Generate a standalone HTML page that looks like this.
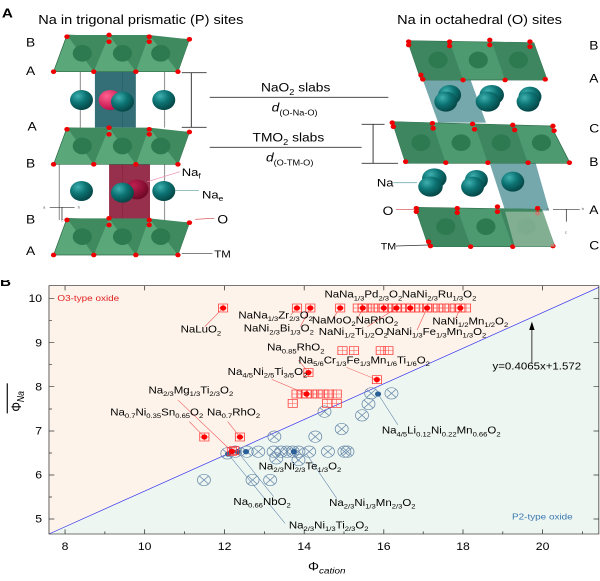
<!DOCTYPE html>
<html><head><meta charset="utf-8"><style>
html,body{margin:0;padding:0;background:#fff;width:600px;height:581px;overflow:hidden}
svg{position:absolute;left:0;display:block}
text{font-family:"Liberation Sans",sans-serif}
</style></head><body>
<svg style="top:0" width="600" height="280" viewBox="0 0 1568 840" preserveAspectRatio="none">
<defs>
<radialGradient id="tg" cx="0.35" cy="0.3" r="0.7"><stop offset="0" stop-color="#3fb0b0"/><stop offset="0.5" stop-color="#0d7474"/><stop offset="1" stop-color="#064848"/></radialGradient>
<radialGradient id="pg" cx="0.35" cy="0.3" r="0.7"><stop offset="0" stop-color="#ff6090"/><stop offset="1" stop-color="#c0104a"/></radialGradient>
<radialGradient id="mg" cx="0.35" cy="0.3" r="0.7"><stop offset="0" stop-color="#c02050"/><stop offset="1" stop-color="#700828"/></radialGradient>
</defs>
<text x="5" y="52" font-size="40" font-weight="bold">A</text>
<text x="100" y="72" font-size="38">Na in trigonal prismatic (P) sites</text>
<text x="1038" y="72" font-size="38">Na in octahedral (O) sites</text>
<!-- left structure -->
<g stroke="#999" stroke-width="3">
<line x1="210" y1="215" x2="210" y2="383"/><line x1="320" y1="215" x2="320" y2="383"/><line x1="430" y1="215" x2="430" y2="383"/>
<line x1="155" y1="490" x2="155" y2="660"/><line x1="320" y1="490" x2="320" y2="660"/><line x1="430" y1="490" x2="430" y2="660"/>
</g>
<rect x="248" y="215" width="107" height="168" fill="#1e5f68" opacity="0.9"/>
<rect x="285" y="490" width="107" height="170" fill="#8b1a3a" opacity="0.9"/>
<g id="slabL">
<polygon points="175,105 495,118 465,215 140,215" fill="#5aa87a" stroke="#2e6a48" stroke-width="2"/>
<polygon points="175,105 285,105 245,215" fill="#3f8a5e"/>
<polygon points="285,105 390,105 355,215" fill="#3f8a5e"/>
<polygon points="390,105 495,118 465,215" fill="#3f8a5e"/>
<circle cx="215" cy="160" r="25" fill="#2e7a50"/><circle cx="320" cy="160" r="25" fill="#2e7a50"/><circle cx="420" cy="160" r="25" fill="#2e7a50"/>
<g fill="#e00">
<circle cx="175" cy="110" r="7"/><circle cx="285" cy="105" r="7"/><circle cx="285" cy="125" r="7"/><circle cx="390" cy="110" r="7"/><circle cx="390" cy="125" r="7"/><circle cx="495" cy="118" r="7"/>
<circle cx="140" cy="215" r="7"/><circle cx="245" cy="215" r="7"/><circle cx="355" cy="215" r="7"/><circle cx="465" cy="215" r="7"/>
</g></g>
<use href="#slabL" transform="translate(0,278)"/>
<use href="#slabL" transform="translate(0,550)"/>
<circle cx="213" cy="300" r="30" fill="url(#tg)"/><circle cx="288" cy="300" r="30" fill="url(#pg)"/><circle cx="320" cy="305" r="30" fill="url(#tg)"/><circle cx="428" cy="300" r="30" fill="url(#tg)"/>
<circle cx="213" cy="573" r="30" fill="url(#tg)"/><circle cx="358" cy="568" r="30" fill="url(#mg)"/><circle cx="320" cy="578" r="30" fill="url(#tg)"/><circle cx="428" cy="573" r="30" fill="url(#tg)"/>
<g font-size="36"><text x="68" y="140">B</text><text x="68" y="225">A</text><text x="72" y="392">A</text><text x="68" y="502">B</text><text x="68" y="670">B</text><text x="68" y="765">A</text></g>
<g font-size="12" fill="#666"><text x="112" y="625">a</text><text x="203" y="625">b</text><text x="160" y="665">c</text></g>
<g stroke="#333" stroke-width="2"><line x1="130" y1="622" x2="195" y2="622"/><line x1="162" y1="622" x2="162" y2="660"/></g>
<line x1="385" y1="545" x2="470" y2="515" stroke="#f08ab0" stroke-width="2"/>
<line x1="458" y1="572" x2="520" y2="572" stroke="#5a9a9a" stroke-width="2"/>
<line x1="510" y1="658" x2="560" y2="655" stroke="#d04040" stroke-width="2"/>
<line x1="475" y1="760" x2="555" y2="760" stroke="#333" stroke-width="2"/>
<text x="475" y="528" font-size="34">Na<tspan font-size="22" dy="8">f</tspan></text>
<text x="528" y="595" font-size="34">Na<tspan font-size="22" dy="8">e</tspan></text>
<text x="568" y="670" font-size="36">O</text>
<text x="560" y="772" font-size="30">TM</text>
<!-- middle -->
<g stroke="#333" stroke-width="2.5" fill="none">
<line x1="475" y1="218" x2="540" y2="218"/><line x1="475" y1="382" x2="540" y2="382"/><line x1="500" y1="218" x2="500" y2="382"/>
<line x1="548" y1="292" x2="1015" y2="292"/><line x1="548" y1="442" x2="945" y2="442"/>
<line x1="945" y1="373" x2="1005" y2="373"/><line x1="945" y1="490" x2="1040" y2="490"/><line x1="975" y1="373" x2="975" y2="490"/>
</g>
<text x="682" y="275" font-size="36">NaO<tspan font-size="24" dy="10">2</tspan><tspan dy="-10"> slabs</tspan></text>
<text x="710" y="335" font-size="36" font-style="italic">d<tspan font-size="24" dy="12" font-style="normal">(O-Na-O)</tspan></text>
<text x="660" y="425" font-size="36">TMO<tspan font-size="24" dy="10">2</tspan><tspan dy="-10"> slabs</tspan></text>
<text x="695" y="485" font-size="36" font-style="italic">d<tspan font-size="24" dy="12" font-style="normal">(O-TM-O)</tspan></text>
<!-- right structure -->
<polygon points="1105,240 1230,240 1270,368 1145,368" fill="#2a7a80" opacity="0.65"/>
<polygon points="1280,490 1400,490 1435,632 1320,632" fill="#2a7a80" opacity="0.65"/>
<g id="slabR">
<polygon points="1065,122 1395,128 1430,240 1100,240" fill="#4e9a70" stroke="#2e6a48" stroke-width="2"/>
<polygon points="1065,122 1175,125 1210,240 1100,240" fill="#3e8660"/>
<polygon points="1285,125 1395,128 1430,240 1320,240" fill="#3e8660"/>
<circle cx="1145" cy="180" r="25" fill="#2e7a50"/><circle cx="1250" cy="180" r="25" fill="#2e7a50"/><circle cx="1355" cy="180" r="25" fill="#2e7a50"/>
<g fill="#e00"><circle cx="1068" cy="125" r="7"/><circle cx="1068" cy="135" r="7"/><circle cx="1175" cy="125" r="7"/><circle cx="1175" cy="138" r="7"/><circle cx="1280" cy="120" r="7"/><circle cx="1280" cy="135" r="7"/><circle cx="1385" cy="125" r="7"/><circle cx="1385" cy="140" r="7"/>
<circle cx="1100" cy="225" r="7"/><circle cx="1105" cy="238" r="7"/><circle cx="1210" cy="240" r="7"/><circle cx="1320" cy="240" r="7"/><circle cx="1425" cy="238" r="7"/></g>
</g>
<polygon points="1025,365 1440,378 1490,490 1060,490" fill="#4e9a70" stroke="#2e6a48" stroke-width="2"/>
<polygon points="1025,365 1130,368 1165,490 1060,490" fill="#3e8660"/><polygon points="1240,372 1345,375 1380,490 1275,490" fill="#3e8660"/>
<g fill="#2e7a50"><circle cx="1100" cy="428" r="25"/><circle cx="1205" cy="428" r="25"/><circle cx="1310" cy="428" r="25"/><circle cx="1415" cy="428" r="25"/></g>
<g fill="#e00"><circle cx="1025" cy="368" r="7"/><circle cx="1028" cy="380" r="7"/><circle cx="1130" cy="370" r="7"/><circle cx="1132" cy="385" r="7"/><circle cx="1235" cy="372" r="7"/><circle cx="1240" cy="388" r="7"/><circle cx="1340" cy="375" r="7"/><circle cx="1345" cy="390" r="7"/><circle cx="1445" cy="378" r="7"/><circle cx="1448" cy="392" r="7"/>
<circle cx="1060" cy="485" r="7"/><circle cx="1165" cy="488" r="7"/><circle cx="1275" cy="488" r="7"/><circle cx="1380" cy="488" r="7"/><circle cx="1488" cy="488" r="7"/></g>
<use href="#slabR" transform="translate(20,500)"/>
<polygon points="1320,635 1420,635 1450,740 1345,740" fill="#a0c0a8" opacity="0.7"/>
<g fill="url(#tg)">
<ellipse cx="1175" cy="285" rx="30" ry="30"/><ellipse cx="1165" cy="305" rx="30" ry="30"/>
<ellipse cx="1285" cy="285" rx="32" ry="30"/><ellipse cx="1275" cy="305" rx="32" ry="30"/>
<ellipse cx="1385" cy="290" rx="30" ry="30"/><ellipse cx="1380" cy="305" rx="30" ry="30"/>
<ellipse cx="1135" cy="535" rx="32" ry="30"/><ellipse cx="1125" cy="560" rx="32" ry="30"/>
<ellipse cx="1245" cy="540" rx="30" ry="30"/><ellipse cx="1235" cy="560" rx="30" ry="30"/>
<circle cx="1340" cy="545" r="30"/></g>
<g font-size="36"><text x="1540" y="148">B</text><text x="1540" y="248">A</text><text x="1540" y="398">C</text><text x="1540" y="498">B</text><text x="1540" y="642">A</text><text x="1540" y="748">C</text></g>
<text x="985" y="560" font-size="34">Na</text><line x1="1028" y1="548" x2="1090" y2="548" stroke="#8ab8b8" stroke-width="3"/>
<text x="1000" y="645" font-size="36">O</text><line x1="1035" y1="628" x2="1085" y2="628" stroke="#d04040" stroke-width="2"/>
<text x="995" y="748" font-size="28">TM</text><line x1="1035" y1="738" x2="1120" y2="735" stroke="#333" stroke-width="2"/>
<g stroke="#333" stroke-width="2"><line x1="1445" y1="628" x2="1515" y2="628"/><line x1="1480" y1="628" x2="1480" y2="665"/></g>
<g font-size="12" fill="#666"><text x="1428" y="630">a</text><text x="1520" y="630">b</text><text x="1476" y="700">c</text></g>
</svg>

<svg style="top:280px" width="600" height="301" viewBox="0 0 1568 903" preserveAspectRatio="none">
<defs>
<g id="sq"><rect x="-12" y="-12" width="24" height="24" fill="none" stroke="#f33" stroke-width="2"/><path d="M-12 0H12M0 -12V12" stroke="#f55" stroke-width="1.5"/></g>
<g id="rd"><use href="#sq"/><circle r="8" fill="#f00"/></g>
<g id="cx"><circle r="17" fill="none" stroke="#6688aa" stroke-width="2"/><path d="M-12 -12L12 12M12 -12L-12 12" stroke="#6688aa" stroke-width="2"/></g>
</defs>
<text x="0" y="18" font-size="40" font-weight="bold">B</text>
<polygon points="128,17 1565,17 1565,22 128,762" fill="#fdf3ea"/>
<polygon points="1565,22 1565,762 128,762" fill="#eef6f1"/>
<line x1="128" y1="762" x2="1565" y2="22" stroke="#3030f0" stroke-width="2"/>
<rect x="128" y="17" width="1437" height="745" fill="none" stroke="#333" stroke-width="2"/>
<g stroke="#333" stroke-width="2">
<path d="M170 762v-14M378 762v-14M587 762v-14M795 762v-14M1003 762v-14M1210 762v-14M1418 762v-14M274 762v-8M482 762v-8M691 762v-8M899 762v-8M1106 762v-8M1314 762v-8M1522 762v-8"/>
<path d="M170 17v14M378 17v14M587 17v14M795 17v14M1003 17v14M1210 17v14M1418 17v14"/>
<path d="M128 55h14M128 188h14M128 320h14M128 453h14M128 585h14M128 717h14M128 121h8M128 254h8M128 387h8M128 519h8M128 651h8"/>
<path d="M1565 55h-14M1565 188h-14M1565 320h-14M1565 453h-14M1565 585h-14M1565 717h-14"/>
</g>
<g font-size="32" text-anchor="middle"><text x="170" y="810">8</text><text x="378" y="810">10</text><text x="587" y="810">12</text><text x="795" y="810">14</text><text x="1003" y="810">16</text><text x="1210" y="810">18</text><text x="1418" y="810">20</text></g>
<g font-size="32" text-anchor="end"><text x="110" y="66">10</text><text x="110" y="199">9</text><text x="110" y="331">8</text><text x="110" y="464">7</text><text x="110" y="596">6</text><text x="110" y="728">5</text></g>
<text x="805" y="872" font-size="36">Φ<tspan font-size="26" dy="8" font-style="italic">cation</tspan></text>
<g transform="translate(55,395) rotate(-90)"><text x="0" y="0" font-size="36">Φ<tspan font-size="26" dy="8" font-style="italic">Na</tspan></text><line x1="-5" y1="-36" x2="85" y2="-36" stroke="#000" stroke-width="3"/></g>
<text x="150" y="63" font-size="26" fill="#e02020">O3-type oxide</text>
<text x="1338" y="718" font-size="26" fill="#3a78b0">P2-type oxide</text>
<!-- leader lines -->
<g stroke="#f04848" stroke-width="1.5" fill="none">
<path d="M583 84L535 140"/><path d="M776 84L760 105"/><path d="M811 84L785 140"/><path d="M889 84L870 115"/><path d="M948 84L935 115"/><path d="M1036 84L960 140"/><path d="M1116 84L1090 150"/><path d="M1203 84L1190 118"/>
<path d="M806 278L780 240"/><path d="M985 299L905 262"/><path d="M801 342L710 298"/><path d="M534 471L495 425"/><path d="M627 471L595 425"/><path d="M606 514L465 360"/>
</g>
<g stroke="#5a80a8" stroke-width="1.5" fill="none">
<path d="M988 342L1040 435"/><path d="M596 522L745 730"/><path d="M621 515L715 650"/><path d="M768 515L780 545"/><path d="M800 520L880 655"/>
</g>
<!-- blue markers -->
<g>
<use href="#cx" x="533" y="600"/><use href="#cx" x="660" y="600"/><use href="#cx" x="706" y="600"/><use href="#cx" x="717" y="470"/><use href="#cx" x="824" y="470"/><use href="#cx" x="893" y="447"/><use href="#cx" x="848" y="395"/><use href="#cx" x="946" y="406"/><use href="#cx" x="963" y="372"/><use href="#cx" x="970" y="340"/><use href="#cx" x="1023" y="340"/>
<use href="#cx" x="594" y="520"/><use href="#cx" x="615" y="515"/><use href="#cx" x="645" y="515"/><use href="#cx" x="675" y="515"/><use href="#cx" x="715" y="515"/><use href="#cx" x="735" y="515"/><use href="#cx" x="750" y="515"/><use href="#cx" x="765" y="515"/><use href="#cx" x="780" y="515"/><use href="#cx" x="808" y="515"/><use href="#cx" x="857" y="515"/><use href="#cx" x="900" y="515"/><use href="#cx" x="908" y="515"/><use href="#cx" x="722" y="535"/><use href="#cx" x="780" y="540"/>
</g>
<g fill="#2a5f98"><circle cx="596" cy="522" r="8"/><circle cx="621" cy="515" r="8"/><circle cx="643" cy="515" r="8"/><circle cx="768" cy="515" r="8"/><circle cx="988" cy="342" r="8"/></g>
<!-- red markers -->
<g>
<use href="#sq" x="935" y="84"/><use href="#sq" x="958" y="84"/><use href="#sq" x="975" y="84"/><use href="#sq" x="990" y="84"/><use href="#sq" x="1015" y="84"/><use href="#sq" x="1025" y="84"/><use href="#sq" x="1050" y="84"/><use href="#sq" x="1060" y="84"/><use href="#sq" x="1085" y="84"/><use href="#sq" x="1095" y="84"/><use href="#sq" x="1130" y="84"/><use href="#sq" x="1145" y="84"/><use href="#sq" x="1160" y="84"/><use href="#sq" x="1175" y="84"/><use href="#sq" x="1190" y="84"/><use href="#sq" x="1218" y="84"/>
<use href="#sq" x="895" y="212"/><use href="#sq" x="925" y="212"/><use href="#sq" x="995" y="212"/><use href="#sq" x="1015" y="212"/>
<use href="#sq" x="775" y="342"/><use href="#sq" x="790" y="342"/><use href="#sq" x="815" y="342"/><use href="#sq" x="830" y="342"/><use href="#sq" x="845" y="342"/><use href="#sq" x="860" y="342"/><use href="#sq" x="880" y="342"/>
<use href="#sq" x="765" y="370"/><use href="#sq" x="855" y="370"/><use href="#sq" x="880" y="370"/><use href="#sq" x="612" y="512"/>
<use href="#rd" x="583" y="84"/><use href="#rd" x="776" y="84"/><use href="#rd" x="811" y="84"/><use href="#rd" x="889" y="84"/><use href="#rd" x="948" y="84"/><use href="#rd" x="1003" y="84"/><use href="#rd" x="1036" y="84"/><use href="#rd" x="1072" y="84"/><use href="#rd" x="1116" y="84"/><use href="#rd" x="1203" y="84"/>
<use href="#rd" x="806" y="278"/><use href="#rd" x="985" y="299"/><use href="#rd" x="801" y="342"/><use href="#rd" x="534" y="471"/><use href="#rd" x="627" y="471"/><use href="#rd" x="606" y="514"/>
</g>
<!-- arrow -->
<line x1="1390" y1="250" x2="1390" y2="145" stroke="#000" stroke-width="2"/><polygon points="1383,150 1397,150 1390,125" fill="#000"/>
<!-- labels -->
<g font-size="30">
<text x="848" y="53">NaNa<tspan font-size="20" dy="8">1/3</tspan><tspan dy="-8">Pd</tspan><tspan font-size="20" dy="8">2/3</tspan><tspan dy="-8">O</tspan><tspan font-size="20" dy="8">2</tspan></text>
<text x="1050" y="53">NaNi<tspan font-size="20" dy="8">2/3</tspan><tspan dy="-8">Ru</tspan><tspan font-size="20" dy="8">1/3</tspan><tspan dy="-8">O</tspan><tspan font-size="20" dy="8">2</tspan></text>
<text x="623" y="115">NaNa<tspan font-size="20" dy="8">1/3</tspan><tspan dy="-8">Zr</tspan><tspan font-size="20" dy="8">2/3</tspan><tspan dy="-8">O</tspan><tspan font-size="20" dy="8">2</tspan></text>
<text x="637" y="155">NaNi<tspan font-size="20" dy="8">2/3</tspan><tspan dy="-8">Bi</tspan><tspan font-size="20" dy="8">1/3</tspan><tspan dy="-8">O</tspan><tspan font-size="20" dy="8">2</tspan></text>
<text x="472" y="158">NaLuO<tspan font-size="20" dy="8">2</tspan></text>
<text x="815" y="130">NaMoO<tspan font-size="20" dy="8">2</tspan><tspan dy="-8">NaRhO</tspan><tspan font-size="20" dy="8">2</tspan></text>
<text x="833" y="165">NaNi<tspan font-size="20" dy="8">1/2</tspan><tspan dy="-8">Ti</tspan><tspan font-size="20" dy="8">1/2</tspan><tspan dy="-8">O</tspan><tspan font-size="20" dy="8">2</tspan></text>
<text x="1010" y="165">NaNi<tspan font-size="20" dy="8">1/3</tspan><tspan dy="-8">Fe</tspan><tspan font-size="20" dy="8">1/3</tspan><tspan dy="-8">Mn</tspan><tspan font-size="20" dy="8">1/3</tspan><tspan dy="-8">O</tspan><tspan font-size="20" dy="8">2</tspan></text>
<text x="1130" y="133">NaNi<tspan font-size="20" dy="8">1/2</tspan><tspan dy="-8">Mn</tspan><tspan font-size="20" dy="8">1/2</tspan><tspan dy="-8">O</tspan><tspan font-size="20" dy="8">2</tspan></text>
<text x="698" y="212">Na<tspan font-size="20" dy="8">0.85</tspan><tspan dy="-8">RhO</tspan><tspan font-size="20" dy="8">2</tspan></text>
<text x="780" y="250">Na<tspan font-size="20" dy="8">5/6</tspan><tspan dy="-8">Cr</tspan><tspan font-size="20" dy="8">1/3</tspan><tspan dy="-8">Fe</tspan><tspan font-size="20" dy="8">1/3</tspan><tspan dy="-8">Mn</tspan><tspan font-size="20" dy="8">1/6</tspan><tspan dy="-8">Ti</tspan><tspan font-size="20" dy="8">1/6</tspan><tspan dy="-8">O</tspan><tspan font-size="20" dy="8">2</tspan></text>
<text x="595" y="285">Na<tspan font-size="20" dy="8">4/5</tspan><tspan dy="-8">Ni</tspan><tspan font-size="20" dy="8">2/5</tspan><tspan dy="-8">Ti</tspan><tspan font-size="20" dy="8">3/5</tspan><tspan dy="-8">O</tspan><tspan font-size="20" dy="8">2</tspan></text>
<text x="1287" y="268">y=0.4065x+1.572</text>
<text x="388" y="340">Na<tspan font-size="20" dy="8">2/3</tspan><tspan dy="-8">Mg</tspan><tspan font-size="20" dy="8">1/3</tspan><tspan dy="-8">Ti</tspan><tspan font-size="20" dy="8">2/3</tspan><tspan dy="-8">O</tspan><tspan font-size="20" dy="8">2</tspan></text>
<text x="288" y="406">Na<tspan font-size="20" dy="8">0.7</tspan><tspan dy="-8">Ni</tspan><tspan font-size="20" dy="8">0.35</tspan><tspan dy="-8">Sn</tspan><tspan font-size="20" dy="8">0.65</tspan><tspan dy="-8">O</tspan><tspan font-size="20" dy="8">2</tspan></text>
<text x="541" y="406">Na<tspan font-size="20" dy="8">0.7</tspan><tspan dy="-8">RhO</tspan><tspan font-size="20" dy="8">2</tspan></text>
<text x="998" y="461">Na<tspan font-size="20" dy="8">4/5</tspan><tspan dy="-8">Li</tspan><tspan font-size="20" dy="8">0.12</tspan><tspan dy="-8">Ni</tspan><tspan font-size="20" dy="8">0.22</tspan><tspan dy="-8">Mn</tspan><tspan font-size="20" dy="8">0.66</tspan><tspan dy="-8">O</tspan><tspan font-size="20" dy="8">2</tspan></text>
<text x="676" y="568">Na<tspan font-size="20" dy="8">2/3</tspan><tspan dy="-8">Ni</tspan><tspan font-size="20" dy="8">2/3</tspan><tspan dy="-8">Te</tspan><tspan font-size="20" dy="8">1/3</tspan><tspan dy="-8">O</tspan><tspan font-size="20" dy="8">2</tspan></text>
<text x="610" y="675">Na<tspan font-size="20" dy="8">0.66</tspan><tspan dy="-8">NbO</tspan><tspan font-size="20" dy="8">2</tspan></text>
<text x="860" y="678">Na<tspan font-size="20" dy="8">2/3</tspan><tspan dy="-8">Ni</tspan><tspan font-size="20" dy="8">1/3</tspan><tspan dy="-8">Mn</tspan><tspan font-size="20" dy="8">2/3</tspan><tspan dy="-8">O</tspan><tspan font-size="20" dy="8">2</tspan></text>
<text x="755" y="745">Na<tspan font-size="20" dy="8">2/3</tspan><tspan dy="-8">Ni</tspan><tspan font-size="20" dy="8">1/3</tspan><tspan dy="-8">Ti</tspan><tspan font-size="20" dy="8">2/3</tspan><tspan dy="-8">O</tspan><tspan font-size="20" dy="8">2</tspan></text>
</g>
</svg>
</body></html>
